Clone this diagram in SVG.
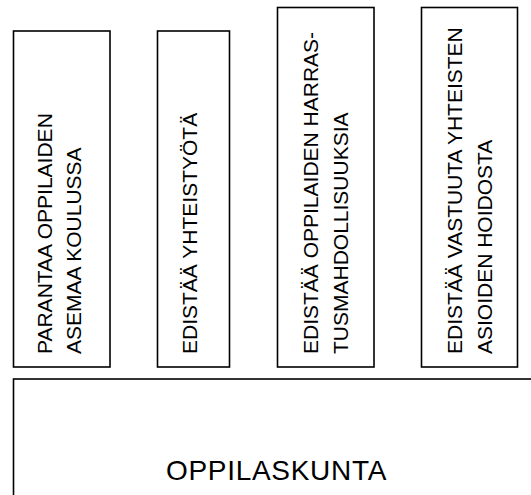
<svg xmlns="http://www.w3.org/2000/svg" width="531" height="495" viewBox="0 0 531 495">
<style>
.box{fill:#fff;stroke:#000;stroke-width:1.6}
.t{font-family:"Liberation Sans",Arial,sans-serif;font-size:21px;fill:#000}
.big{font-family:"Liberation Sans",Arial,sans-serif;font-size:28px;fill:#000;letter-spacing:0.7px}
</style>
<rect width="531" height="495" fill="#fff"/>
<g id="goal1">
<rect class="box" x="13.5" y="31" width="96.5" height="336"/>
<text class="t" transform="translate(51.7,354) rotate(-90)">PARANTAA OPPILAIDEN</text>
<text class="t" transform="translate(81.2,354) rotate(-90)">ASEMAA KOULUSSA</text>
</g>
<g id="goal2">
<rect class="box" x="157.5" y="31" width="72" height="336"/>
<text class="t" transform="translate(197,354) rotate(-90)">EDISTÄÄ YHTEISTYÖTÄ</text>
</g>
<g id="goal3">
<rect class="box" x="277.5" y="7.5" width="96.5" height="359.5"/>
<text class="t" transform="translate(318.3,354) rotate(-90)">EDISTÄÄ OPPILAIDEN HARRAS-</text>
<text class="t" transform="translate(348.3,354) rotate(-90)">TUSMAHDOLLISUUKSIA</text>
</g>
<g id="goal4">
<rect class="box" x="421.5" y="7.5" width="96" height="359.5"/>
<text class="t" transform="translate(461.7,354) rotate(-90)">EDISTÄÄ VASTUUTA YHTEISTEN</text>
<text class="t" transform="translate(491.7,354) rotate(-90)">ASIOIDEN HOIDOSTA</text>
</g>
<g id="oppilaskunta">
<rect class="box" x="13.5" y="379" width="600" height="200"/>
<text class="big" x="276.5" y="480" text-anchor="middle">OPPILASKUNTA</text>
</g>
<g id="connectors"/>
</svg>
